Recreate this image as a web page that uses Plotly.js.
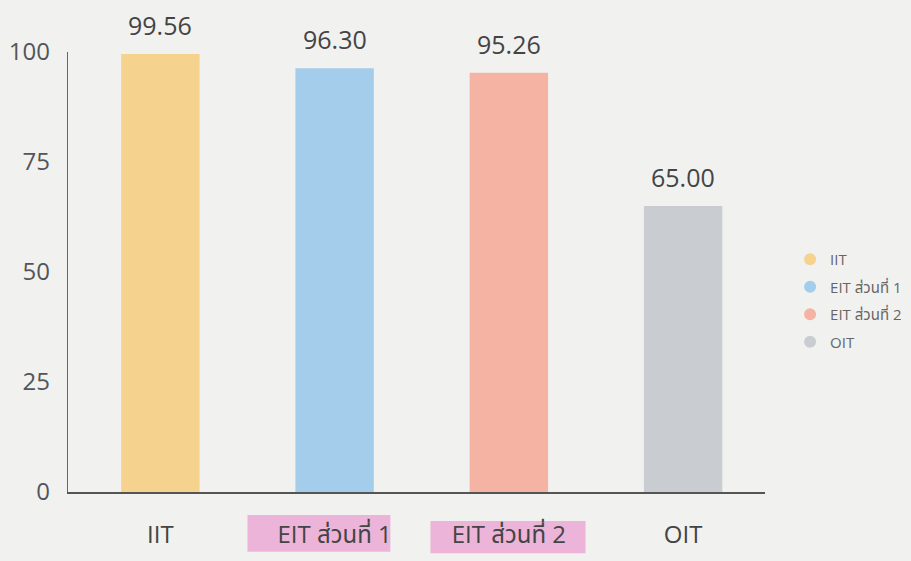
<!DOCTYPE html>
<html><head><meta charset="utf-8">
<script src="https://cdn.plot.ly/plotly-3.0.1.min.js"></script>
<style>html,body{margin:0;padding:0;background:#f1f1f0;}</style>
</head><body><div id="chart" style="width:911px;height:561px;"></div>
<script>
const categories = ["IIT", "EIT ส่วนที่ 1", "EIT ส่วนที่ 2", "OIT"];
const values = [99.56, 96.30, 95.26, 65.00];
const valueLabels = ["99.56", "96.30", "95.26", "65.00"];
const colors = ["#f5d38f", "#a3cdeb", "#f5b4a3", "#c9cdd1"];
const highlighted = ["EIT ส่วนที่ 1", "EIT ส่วนที่ 2"];
const yTicks = [0, 25, 50, 75, 100];

const FONT = "'Open Sans', 'Noto Sans', 'Noto Sans Thai', sans-serif";
const traces = [];
categories.forEach((c, i) => {
  traces.push({
    type: "bar", x: [c], y: [values[i]], name: c,
    marker: {color: colors[i]}, width: 0.45,
    showlegend: false, hoverinfo: "none"
  });
});
categories.forEach((c, i) => {
  traces.push({
    type: "scatter", mode: "markers", x: [null], y: [null], name: c, legendgroup: "g" + i,
    marker: {color: colors[i], size: 16, symbol: "circle"}, showlegend: true
  });
});

const annotations = categories.map((c, i) => ({
  x: c, y: values[i], xref: "x", yref: "y", text: valueLabels[i],
  showarrow: false, yanchor: "bottom", yshift: 10,
  font: {size: 25, color: "#444", family: FONT}
}));

const hlBox = {
  "EIT ส่วนที่ 1": [-0.5, 0.32, -0.052, -0.136],
  "EIT ส่วนที่ 2": [-0.45, 0.44, -0.066, -0.139]
};
const shapes = highlighted.map(h => {
  const k = categories.indexOf(h), b = hlBox[h];
  return {
    type: "rect", xref: "x", yref: "paper", layer: "below",
    x0: k + b[0], x1: k + b[1], y0: b[3], y1: b[2],
    fillcolor: "#ecb4d8", line: {width: 0}
  };
});

const layout = {
  width: 911, height: 561,
  paper_bgcolor: "#f1f1f0", plot_bgcolor: "#f1f1f0",
  margin: {l: 68, r: 146, t: 52, b: 69, autoexpand: false},
  font: {family: FONT, color: "#444"},
  barmode: "overlay",
  xaxis: {
    type: "category", categoryarray: categories, range: [-0.53, 3.47],
    showline: true, linecolor: "#555", linewidth: 1.5, ticks: "",
    tickfont: {size: 24, color: "#444"}, ticklabelstandoff: 21, showgrid: false, zeroline: false
  },
  yaxis: {
    range: [0, 100], tickvals: yTicks, showline: true, linecolor: "#666", linewidth: 1.2,
    ticks: "", showgrid: false, zeroline: false,
    tickfont: {size: 24, color: "#555"}, ticklabelstandoff: 12
  },
  legend: {x: 1.036, y: 0.566, yanchor: "top", xanchor: "left", font: {size: 15, color: "#666"},
    tracegroupgap: 5, itemsizing: "constant", bgcolor: "rgba(0,0,0,0)"},
  annotations: annotations,
  shapes: shapes,
  showlegend: true
};
Plotly.newPlot("chart", traces, layout, {displayModeBar: false, staticPlot: true});
</script></body></html>
